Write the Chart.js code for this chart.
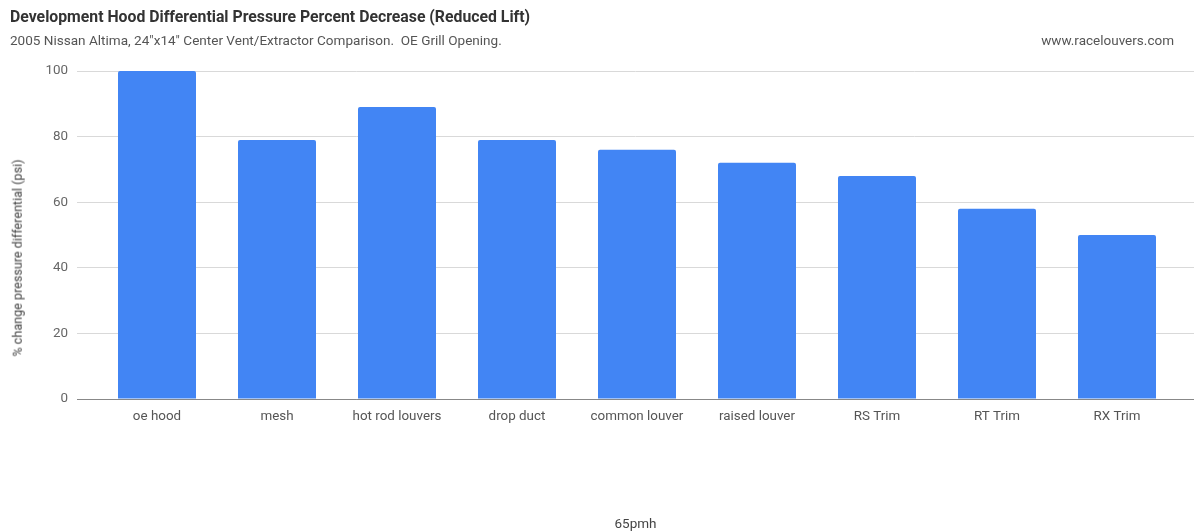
<!DOCTYPE html>
<html>
<head>
<meta charset="utf-8">
<script src="https://cdn.jsdelivr.net/npm/chart.js@4/dist/chart.umd.min.js"></script>
<style>
  html, body { margin: 0; padding: 0; background: #fff; }
  #wrap { position: relative; width: 1194px; height: 531px; font-family: Roboto, "Noto Sans", sans-serif; }
  #chart { position: absolute; left: 0; top: 0; }
  .txt { position: absolute; white-space: nowrap; line-height: 1; }
  #title { left: 10px; top: 9px; font-size: 15.8px; font-weight: bold; color: #333; }
  #subtitle { left: 10px; top: 34px; font-size: 13.55px; color: #555; }
  #site { right: 20px; top: 34px; font-size: 13.5px; color: #555; }
  #ytitle { left: 18px; top: 258px; font-size: 12.6px; color: #444;
            transform: translate(-50%, -50%) rotate(-90deg); }
</style>
</head>
<body>
<div id="wrap">
  <canvas id="chart" width="1194" height="531"></canvas>
  <div class="txt" id="title">Development Hood Differential Pressure Percent Decrease (Reduced Lift)</div>
  <div class="txt" id="subtitle">2005 Nissan Altima, 24"x14" Center Vent/Extractor Comparison.&nbsp; OE Grill Opening.</div>
  <div class="txt" id="site">www.racelouvers.com</div>
  <div class="txt" id="ytitle">% change pressure differential (psi)</div>
</div>
<script>
const categories = ['oe hood', 'mesh', 'hot rod louvers', 'drop duct', 'common louver',
                    'raised louver', 'RS Trim', 'RT Trim', 'RX Trim'];
const pressureDrop = [100, 79, 89, 79, 76, 72, 68, 58, 50];
const yTicks = [0, 20, 40, 60, 80, 100];
const xTitle = '65pmh';

const FONT = 'Roboto, "Noto Sans", sans-serif';

new Chart(document.getElementById('chart'), {
  type: 'bar',
  data: {
    datasets: [{
      data: pressureDrop.map((v, i) => ({ x: i, y: v })),
      backgroundColor: '#4285F4',
      borderRadius: 2,
      barPercentage: 1,
      categoryPercentage: 0.65
    }]
  },
  options: {
    responsive: false,
    animation: false,
    layout: { padding: { left: 0, right: 0, top: 71, bottom: 0 } },
    plugins: {
      legend: { display: false },
      tooltip: { enabled: false },
      title: { display: false }
    },
    scales: {
      x: {
        type: 'linear',
        offset: false,
        min: -2 / 3,
        max: 8 + 77 / 120,
        afterFit: (s) => { s.height = 132; },
        grid: { display: false, drawTicks: false },
        border: { display: true, color: '#888', width: 1 },
        ticks: {
          stepSize: 1, autoSkip: false, maxRotation: 0, includeBounds: false,
          padding: 10, color: '#555',
          font: { family: FONT, size: 13.4 },
          callback: (v) => (Number.isInteger(v) && v >= 0 && v < categories.length) ? categories[v] : ''
        },
        title: {
          display: true, text: xTitle, color: '#444',
          font: { family: FONT, size: 13.5 },
          padding: { top: 0, bottom: -2 }
        }
      },
      y: {
        min: 0, max: 100,
        afterFit: (s) => { s.width = 77; },
        afterBuildTicks: (s) => { s.ticks = yTicks.map(v => ({ value: v })); },
        grid: {
          drawTicks: false,
          color: (ctx) => ctx.tick && ctx.tick.value === 0 ? '#888' : '#d9d9d9',
          lineWidth: 1
        },
        border: { display: false },
        ticks: { padding: 9, color: '#666', font: { family: FONT, size: 13.4 } }
      }
    }
  }
});
</script>
</body>
</html>
